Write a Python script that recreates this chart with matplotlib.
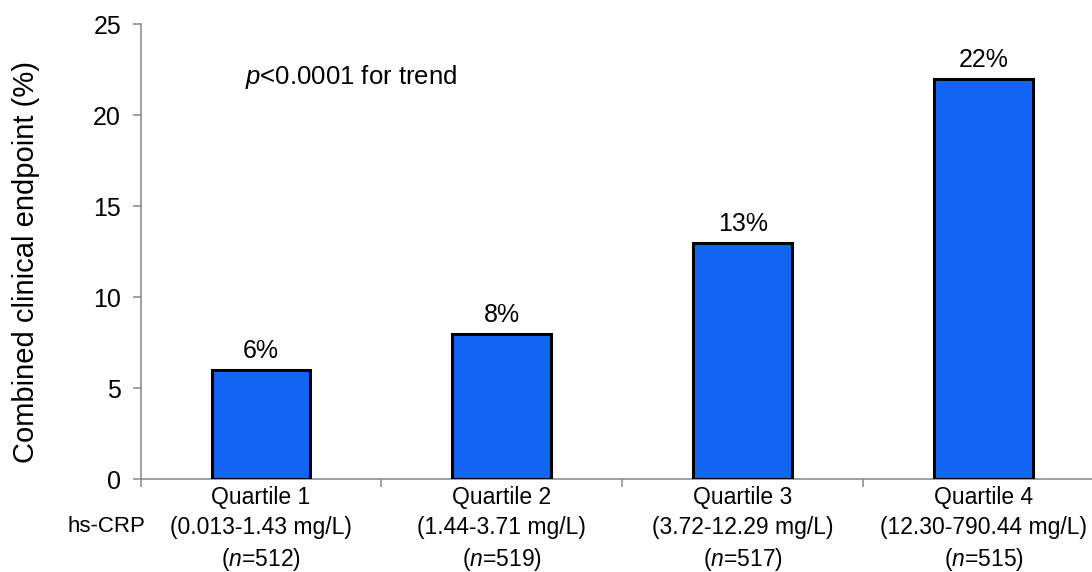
import matplotlib
matplotlib.use('Agg')
import matplotlib.pyplot as plt

# Datos del gráfico
cuartiles = ['Quartile 1', 'Quartile 2', 'Quartile 3', 'Quartile 4']
rangos = ['0.013-1.43', '1.44-3.71', '3.72-12.29', '12.30-790.44']
n_pacientes = [512, 519, 517, 515]
porcentajes = [6, 8, 13, 22]

plt.rcParams['font.family'] = ['Liberation Sans', 'DejaVu Sans']
plt.rcParams['mathtext.fontset'] = 'custom'
plt.rcParams['mathtext.rm'] = 'Liberation Sans'
plt.rcParams['mathtext.it'] = 'Liberation Sans:italic'

fig = plt.figure(figsize=(10.92, 5.72), dpi=100)
ax = fig.add_axes([0.1287, 0.1621, 0.8823, 0.7955])

x = range(len(cuartiles))
ax.bar(x, porcentajes, width=0.41, color='#1464F4', edgecolor='black', linewidth=2.2, zorder=3)

# Etiquetas de porcentaje sobre cada barra
for xi, v in zip(x, porcentajes):
    ax.annotate(f'{v}%', (xi, v), xytext=(0, 5), textcoords='offset points',
                ha='center', va='bottom', fontsize=18)

etiquetas = [f'{q}\n({r} mg/L)\n($\\mathit{{n}}$={n})'
             for q, r, n in zip(cuartiles, rangos, n_pacientes)]
ax.set_xticks(list(x))
ax.set_xticklabels(etiquetas, fontsize=16.5, linespacing=1.35)
ax.set_xticks([-0.5, 0.5, 1.5, 2.5, 3.5], minor=True)
ax.tick_params(axis='x', which='major', length=0, pad=5)
ax.tick_params(axis='x', which='minor', length=6, width=1.1, color='#868686', direction='out')

ax.set_xlim(-0.5, 3.5)
ax.set_ylim(0, 25)
ax.set_yticks([0, 5, 10, 15, 20, 25])
ax.tick_params(axis='y', labelsize=18, length=6, width=1.1, color='#868686', pad=8)

for s in ['top', 'right']:
    ax.spines[s].set_visible(False)
for s in ['left', 'bottom']:
    ax.spines[s].set_color('#868686')
    ax.spines[s].set_linewidth(1.1)

# Título del eje y (centrado a mano, como en la figura original)
fig.text(26 / 1092, 1 - 262 / 572, 'Combined clinical endpoint (%)', fontsize=21,
         rotation=90, ha='center', va='center')

ax.text(0.108, 0.885, r'$\mathit{p}$<0.0001 for trend', transform=ax.transAxes,
        fontsize=18.5, ha='left', va='center')
fig.text(106 / 1092, 1 - 527 / 572, 'hs-CRP', fontsize=16, ha='center', va='center')

fig.savefig('out.png', dpi=100)
